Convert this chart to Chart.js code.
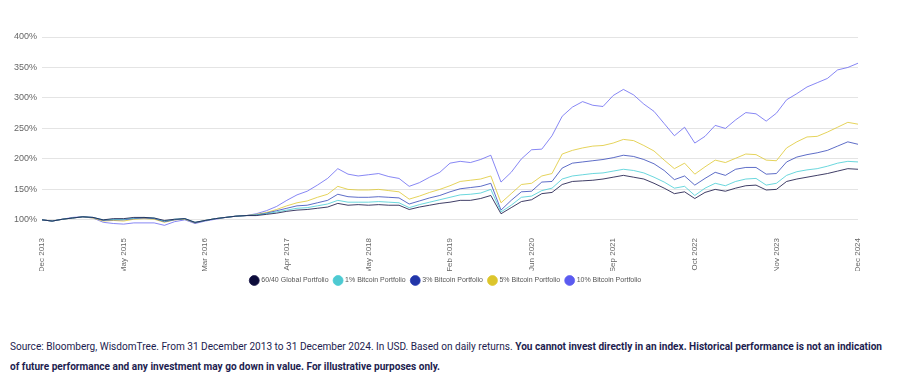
<!DOCTYPE html>
<html lang="en">
<head>
<meta charset="UTF-8">
<title>Bitcoin portfolios</title>
<script src="https://cdn.jsdelivr.net/npm/chart.js"></script>
<style>
  body { margin: 0; background: #fff; width: 903px; height: 388px; overflow: hidden; position: relative; }
  #chartBox { position: absolute; left: 0; top: 0; width: 903px; height: 300px; }
  .nota {
    position: absolute; left: 10px; top: 337px; white-space: nowrap;
    font-family: Roboto, "Open Sans", sans-serif;
    font-size: 10.5px; line-height: 20px; color: #1d1d4f;
    transform-origin: 0 0;
  }
  .nota b { font-weight: bold; }
</style>
</head>
<body>

<div id="chartBox">
  <canvas id="grafico" width="903" height="300"></canvas>
</div>

<div class="nota" id="nota"><span id="linha1">Source: Bloomberg, WisdomTree. From 31 December 2013 to 31 December 2024. In USD. Based on daily returns. <b>You cannot invest directly in an index. Historical performance is not an indication</b></span><br><b>of future performance and any investment may go down in value. For illustrative purposes only.</b></div>

<script>
// tick labels (x axis: one every 8 points)
const tickLabels = ['Dec 2013', 'May 2015', 'Mar 2016', 'Apr 2017', 'May 2018', 'Feb 2019',
                    'Jun 2020', 'Sep 2021', 'Oct 2022', 'Nov 2023', 'Dec 2024'];
const yTicks = [100, 150, 200, 250, 300, 350, 400];

const seriesNames = ['60/40 Global Portfolio', '1% Bitcoin Portfolio', '3% Bitcoin Portfolio',
                     '5% Bitcoin Portfolio', '10% Bitcoin Portfolio'];

// values in %
const global6040 = [100, 98, 101, 103, 105, 104, 100, 102, 102, 104, 104, 103, 99, 101, 102, 96,
  99, 102, 104, 106, 107, 107, 109, 111, 114, 116, 117, 119, 121, 127, 124, 125,
  124, 125, 124, 124, 117, 121, 124, 127, 129, 132, 132, 135, 140, 110, 120, 130,
  133, 143, 145, 158, 163, 164, 165, 167, 170, 173, 170, 167, 160, 152, 143, 146,
  135, 145, 150, 147, 152, 156, 157, 149, 150, 163, 167, 170, 173, 176, 180, 184, 183];

const btc1 = [100, 98, 101, 103, 105, 104, 100, 101, 101, 103, 104, 103, 98, 101, 102, 96,
  99, 102, 104, 106, 107, 108, 110, 113, 116, 119, 120, 123, 126, 132, 129, 129,
  129, 130, 129, 128, 120, 125, 129, 133, 137, 141, 142, 144, 150, 113, 124, 137,
  139, 148, 152, 167, 172, 174, 176, 177, 180, 183, 181, 177, 170, 162, 152, 155,
  140, 152, 160, 156, 163, 167, 168, 157, 160, 173, 179, 182, 184, 188, 193, 196, 195];

const btc3 = [100, 98, 101, 103, 105, 104, 99, 100, 100, 102, 103, 102, 97, 100, 102, 95,
  99, 102, 104, 106, 107, 108, 111, 115, 119, 123, 124, 128, 132, 142, 138, 137,
  137, 138, 137, 136, 126, 131, 136, 140, 146, 151, 153, 155, 160, 116, 132, 146,
  147, 162, 163, 185, 193, 195, 197, 199, 202, 206, 204, 199, 192, 181, 166, 172,
  157, 168, 178, 173, 183, 186, 186, 175, 176, 195, 203, 207, 210, 214, 221, 228, 224];

const btc5 = [100, 98, 101, 103, 105, 103, 98, 99, 98, 101, 102, 101, 96, 100, 101, 95,
  99, 102, 104, 106, 107, 109, 112, 117, 123, 128, 131, 137, 142, 155, 150, 149,
  149, 150, 148, 146, 134, 139, 145, 150, 156, 163, 165, 167, 172, 128, 143, 158,
  160, 172, 176, 208, 214, 218, 221, 222, 226, 232, 230, 222, 213, 198, 184, 193,
  175, 187, 198, 194, 201, 208, 207, 198, 197, 218, 228, 236, 237, 244, 252, 260, 257];

const btc10 = [100, 98, 101, 104, 105, 103, 96, 94, 93, 95, 95, 95, 91, 97, 100, 94,
  98, 101, 104, 106, 107, 110, 115, 122, 132, 141, 147, 157, 168, 184, 175, 172,
  174, 176, 171, 168, 155, 161, 170, 178, 193, 196, 194, 199, 206, 162, 178, 200,
  215, 216, 238, 270, 285, 294, 288, 286, 304, 314, 305, 290, 278, 258, 238, 252,
  226, 237, 255, 250, 264, 276, 274, 262, 275, 297, 307, 318, 325, 332, 346, 350, 357];

const dotColors  = ['#0c0b3a', '#4fc9d1', '#2236a8', '#dcc52c', '#5b5bf0'];
const lineColors = ['rgba(30,28,75,0.85)', 'rgba(70,205,212,0.8)', 'rgba(40,60,180,0.75)',
                    'rgba(222,200,50,0.8)', 'rgba(95,95,240,0.75)'];

const allSeries = [global6040, btc1, btc3, btc5, btc10];
const step = 8;
const labels = global6040.map((v, i) => (i % step === 0 ? tickLabels[i / step] : ''));

const datasets = allSeries.map((serie, k) => ({
  label: seriesNames[k],
  data: serie,
  borderColor: lineColors[k],
  backgroundColor: dotColors[k],
  borderWidth: 1,
  pointRadius: 0,
  tension: 0,
  fill: false
}));

Chart.defaults.font.family = '"Liberation Sans", Arial, sans-serif';

// legend sits a bit right of the canvas centre in the original
const moveLegend = {
  id: 'moveLegend',
  afterLayout(chart) {
    chart.legend.left += 17;
    chart.legend.right += 17;
  }
};

new Chart(document.getElementById('grafico'), {
  type: 'line',
  data: { labels: labels, datasets: datasets },
  plugins: [moveLegend],
  options: {
    responsive: false,
    animation: false,
    layout: { padding: { top: 37, right: 45, left: 0, bottom: 6 } },
    plugins: {
      legend: {
        position: 'bottom',
        labels: {
          usePointStyle: true,
          pointStyle: 'circle',
          boxWidth: 7,
          boxHeight: 7,
          padding: 6,
          color: '#555',
          font: { size: 7 }
        }
      },
      tooltip: { enabled: false }
    },
    scales: {
      x: {
        grid: { display: false, drawTicks: false },
        border: { display: false },
        ticks: {
          autoSkip: false,
          minRotation: 90,
          maxRotation: 90,
          padding: 9,
          color: '#666',
          font: { size: 8 }
        },
        afterFit: function (scale) { scale.height = 42; }
      },
      y: {
        min: 85,
        max: 400,
        border: { display: false },
        grid: { color: '#e4e4e4', drawTicks: false },
        ticks: {
          padding: 5,
          color: '#666',
          font: { size: 9 },
          callback: v => v + '%'
        },
        afterBuildTicks: function (scale) {
          scale.ticks = yTicks.map(v => ({ value: v }));
        },
        afterFit: function (scale) { scale.width = 42; }
      }
    }
  }
});

// squeeze the note so the first line ends where the original does
const largura = document.getElementById('linha1').getBoundingClientRect().width;
document.getElementById('nota').style.transform = 'scaleX(' + (872 / largura) + ')';
</script>
</body>
</html>
